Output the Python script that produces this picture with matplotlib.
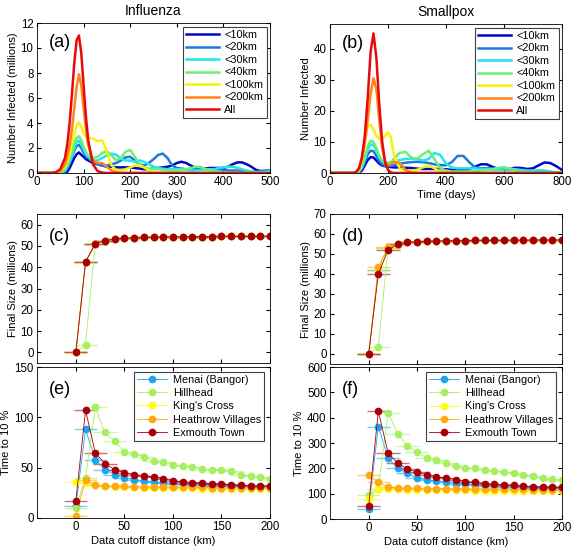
import numpy as np
import matplotlib
matplotlib.use('Agg')
import matplotlib.pyplot as plt
from matplotlib.colors import to_rgba

plt.rcParams['font.family'] = ['Liberation Sans', 'DejaVu Sans']
plt.rcParams['xtick.direction'] = 'in'
plt.rcParams['ytick.direction'] = 'in'
plt.rcParams['xtick.top'] = True
plt.rcParams['ytick.right'] = True
plt.rcParams['xtick.major.size'] = 3
plt.rcParams['ytick.major.size'] = 3
plt.rcParams['xtick.labelsize'] = 8.3
plt.rcParams['ytick.labelsize'] = 8.3
plt.rcParams['xtick.major.pad'] = 2.5
plt.rcParams['ytick.major.pad'] = 2.5
plt.rcParams['axes.linewidth'] = 0.6

# ---------------- epidemic curves ----------------
curve_labels = ['<10km', '<20km', '<30km', '<40km', '<100km', '<200km', 'All']
curve_colors = ['#0008c8', '#1c7ad8', '#20e6f2', '#6cee78', '#f6f20a', '#ff8418', '#e80a0a']

# influenza, time grid (days)
t_flu = [0, 30, 40, 50, 60, 65, 70, 75, 80, 85, 90, 95, 100, 105, 110] + list(range(120, 501, 10))
flu = {
    '<10km': [0, 0, 0, 0, 0, 0.1, 0.4, 0.8, 1.2, 1.5, 1.65, 1.45, 1.3, 1.1, 1.0,
              0.8, 0.7, 0.6, 0.5, 0.5, 0.45, 0.45, 0.45, 0.45, 0.4,
              0.35, 0.3, 0.3, 0.35, 0.4, 0.45, 0.5, 0.6, 0.8, 0.9,
              0.8, 0.6, 0.4, 0.35, 0.35, 0.4, 0.4, 0.4, 0.4, 0.5,
              0.7, 0.85, 0.85, 0.7, 0.5, 0.25, 0.15, 0.15, 0.2],
    '<20km': [0, 0, 0, 0, 0.1, 0.35, 0.8, 1.3, 1.8, 2.15, 2.25, 2.0, 1.6, 1.35, 1.2,
              0.9, 0.7, 0.6, 0.6, 0.7, 0.8, 1.0, 1.25, 1.3, 1.0,
              0.7, 0.6, 0.8, 1.1, 1.45, 1.55, 1.2, 0.6, 0.4, 0.35,
              0.3, 0.3, 0.3, 0.3, 0.3, 0.3, 0.3, 0.3, 0.25, 0.2,
              0.2, 0.2, 0.15, 0.1, 0.1, 0.1, 0.15, 0.2, 0.2],
    '<30km': [0, 0, 0, 0, 0.2, 0.5, 0.9, 1.4, 2.0, 2.45, 2.6, 2.3, 1.9, 1.5, 1.3,
              1.0, 1.0, 1.2, 1.4, 1.55, 1.45, 1.15, 1.0, 1.0, 0.9,
              1.0, 0.9, 0.7, 0.5, 0.4, 0.35, 0.3, 0.3, 0.3, 0.3,
              0.25, 0.2, 0.2, 0.25, 0.3, 0.3, 0.3, 0.4, 0.45, 0.5,
              0.5, 0.4, 0.3, 0.2, 0.1, 0.05, 0.05, 0.1, 0.15],
    '<40km': [0, 0, 0, 0, 0.3, 0.6, 1.1, 1.7, 2.4, 2.8, 2.95, 2.6, 2.1, 1.7, 1.4,
              1.2, 1.3, 1.6, 1.75, 1.4, 1.0, 1.2, 1.7, 1.85, 1.3,
              0.7, 0.45, 0.35, 0.3, 0.3, 0.25, 0.2, 0.2, 0.2, 0.25,
              0.3, 0.4, 0.5, 0.5, 0.35, 0.2, 0.1, 0.05, 0, 0,
              0, 0, 0, 0, 0, 0, 0, 0, 0],
    '<100km': [0, 0, 0, 0.1, 0.5, 0.9, 1.5, 2.3, 3.2, 3.8, 4.05, 3.7, 3.2, 2.9, 2.8,
               2.75, 2.55, 2.6, 1.7, 0.6, 0.25, 0.2, 0.3, 0.45, 0.6,
               0.6, 0.45, 0.2, 0.05, 0, 0, 0, 0, 0, 0,
               0, 0, 0, 0, 0, 0, 0, 0, 0, 0,
               0, 0, 0, 0, 0, 0, 0, 0, 0],
    '<200km': [0, 0, 0, 0.15, 0.7, 1.3, 2.2, 3.5, 5.2, 6.9, 7.9, 7.0, 5.2, 3.5, 2.2,
               1.0, 0.8, 0.8, 0.5, 0.2, 0.05, 0, 0, 0, 0,
               0, 0, 0, 0, 0, 0, 0, 0, 0, 0,
               0, 0, 0, 0, 0, 0, 0, 0, 0, 0,
               0, 0, 0, 0, 0, 0, 0, 0, 0],
    'All': [0, 0, 0.05, 0.3, 1.2, 2.3, 4.0, 6.3, 8.8, 10.6, 11.0, 9.6, 7.0, 4.5, 2.6,
            0.7, 0.15, 0.03, 0, 0, 0, 0, 0, 0, 0,
            0, 0, 0, 0, 0, 0, 0, 0, 0, 0,
            0, 0, 0, 0, 0, 0, 0, 0, 0, 0,
            0, 0, 0, 0, 0, 0, 0, 0, 0],
}

# smallpox, time grid (days)
t_pox = [0] + list(range(80, 221, 10)) + list(range(240, 801, 20))
pox = {
    '<10km': [0, 0, 0, 0.1, 0.8, 2.5, 4.2, 5.1, 5.0, 4.0, 3.0, 2.4, 2.2, 2.0, 1.9, 1.8,
              1.8, 1.7, 1.6, 1.4, 1.3, 1.3, 1.3, 1.3, 1.2, 1.0,
              1.0, 1.0, 1.3, 2.0, 2.8, 2.8, 2.0, 1.3, 1.1, 1.3,
              1.7, 1.6, 1.3, 1.5, 2.5, 3.4, 3.2, 2.2, 1.0],
    '<20km': [0, 0, 0, 0.4, 1.5, 3.6, 6.0, 7.2, 7.0, 5.5, 3.8, 2.8, 2.3, 2.2, 2.3, 2.5,
              3.0, 3.3, 3.5, 3.6, 3.5, 3.2, 2.8, 2.5, 2.5, 3.5,
              5.5, 5.5, 3.5, 1.8, 1.5, 1.5, 1.5, 1.5, 1.5, 1.2,
              1.0, 0.8, 0.6, 0.5, 0.5, 0.4, 0.3, 0.2, 0.2],
    '<30km': [0, 0, 0, 0.5, 1.8, 4.5, 7.5, 9.2, 9.0, 7.2, 5.0, 3.8, 3.3, 3.2, 3.3, 3.6,
              4.2, 4.5, 4.6, 4.5, 4.0, 4.5, 6.5, 5.8, 3.0, 1.8,
              1.5, 1.5, 1.5, 1.5, 1.3, 1.2, 1.0, 1.0, 1.1, 1.3,
              1.2, 1.0, 0.8, 0.8, 0.9, 0.8, 0.5, 0.2, 0.1],
    '<40km': [0, 0, 0, 0.6, 2.0, 5.0, 8.5, 10.4, 10.0, 8.0, 5.5, 4.0, 3.5, 3.2, 3.5, 4.5,
              6.5, 6.8, 5.0, 4.5, 6.0, 7.2, 4.5, 1.5, 0.8, 0.5,
              0.5, 0.5, 0.5, 0.6, 0.8, 1.0, 1.2, 1.7, 1.9, 1.5,
              0.8, 0.4, 0.2, 0.1, 0, 0, 0, 0, 0],
    '<100km': [0, 0, 0.2, 1.0, 4.0, 10.0, 15.0, 15.5, 14.0, 12.0, 11.0, 11.0, 12.0, 13.0, 11.5, 6.0,
               1.5, 0.8, 0.8, 1.0, 1.8, 2.4, 1.5, 0.5, 0.2, 0,
               0, 0, 0, 0, 0, 0, 0, 0, 0, 0,
               0, 0, 0, 0, 0, 0, 0, 0, 0],
    '<200km': [0, 0, 0.3, 1.5, 4.5, 9.5, 17.0, 25.5, 30.5, 27.0, 17.0, 8.0, 3.5, 2.5, 3.0, 3.5,
               3.3, 1.0, 0.2, 0, 0, 0, 0, 0, 0, 0,
               0, 0, 0, 0, 0, 0, 0, 0, 0, 0,
               0, 0, 0, 0, 0, 0, 0, 0, 0],
    'All': [0, 0, 0.3, 1.5, 5.0, 12.0, 24.0, 39.0, 45.0, 37.0, 22.0, 10.0, 3.5, 1.0, 0.2, 0,
            0, 0, 0, 0, 0, 0, 0, 0, 0, 0,
            0, 0, 0, 0, 0, 0, 0, 0, 0, 0,
            0, 0, 0, 0, 0, 0, 0, 0, 0],
}

# ---------------- cutoff distance panels ----------------
cutoff_km = list(range(0, 201, 10))
xerr_km = 12
places = ['Menai (Bangor)', 'Hillhead', "King's Cross", 'Heathrow Villages', 'Exmouth Town']
place_colors = ['#1ca4ec', '#a6f060', '#fdfd10', '#ffa812', '#a80008']

size_flu = {
    'Menai (Bangor)': [0, 42.5, 51, 52.5, 53.2, 53.6, 53.9, 54.0, 54.1, 54.2, 54.3, 54.3, 54.4, 54.4, 54.4, 54.5, 54.5, 54.5, 54.5, 54.5, 54.6],
    'Hillhead': [0, 3.5, 51, 52.5, 53.2, 53.6, 53.9, 54.0, 54.1, 54.2, 54.3, 54.3, 54.4, 54.4, 54.4, 54.5, 54.5, 54.5, 54.5, 54.5, 54.6],
    "King's Cross": [0, 42.5, 51, 52.5, 53.2, 53.6, 53.9, 54.0, 54.1, 54.2, 54.3, 54.3, 54.4, 54.4, 54.4, 54.5, 54.5, 54.5, 54.5, 54.5, 54.6],
    'Heathrow Villages': [0, 42.5, 51, 52.5, 53.2, 53.6, 53.9, 54.0, 54.1, 54.2, 54.3, 54.3, 54.4, 54.4, 54.4, 54.5, 54.5, 54.5, 54.5, 54.5, 54.6],
    'Exmouth Town': [0, 42.5, 51, 52.5, 53.2, 53.6, 53.9, 54.0, 54.1, 54.2, 54.3, 54.3, 54.4, 54.4, 54.4, 54.5, 54.5, 54.5, 54.5, 54.5, 54.6],
}
size_pox = {
    'Menai (Bangor)': [0, 42, 53, 55, 55.8, 56.2, 56.4, 56.5, 56.6, 56.7, 56.7, 56.8, 56.8, 56.8, 56.9, 56.9, 56.9, 57, 57, 57, 57],
    'Hillhead': [0, 3.5, 53, 55, 55.8, 56.2, 56.4, 56.5, 56.6, 56.7, 56.7, 56.8, 56.8, 56.8, 56.9, 56.9, 56.9, 57, 57, 57, 57],
    "King's Cross": [0, 41.5, 53, 55, 55.8, 56.2, 56.4, 56.5, 56.6, 56.7, 56.7, 56.8, 56.8, 56.8, 56.9, 56.9, 56.9, 57, 57, 57, 57],
    'Heathrow Villages': [0, 43.5, 53.5, 55, 55.8, 56.2, 56.4, 56.5, 56.6, 56.7, 56.7, 56.8, 56.8, 56.8, 56.9, 56.9, 56.9, 57, 57, 57, 57],
    'Exmouth Town': [0, 40, 52, 55, 55.8, 56.2, 56.4, 56.5, 56.6, 56.7, 56.7, 56.8, 56.8, 56.8, 56.9, 56.9, 56.9, 57, 57, 57, 57],
}
t10_flu = {
    'Menai (Bangor)': [12, 88, 58, 48, 43, 40, 38, 37, 36, 35, 34, 34, 33, 33, 32, 32, 32, 31, 31, 31, 31],
    'Hillhead': [10, 40, 110, 85, 76, 66, 64, 61, 57, 56, 53, 52, 51, 49, 48, 48, 47, 43, 42, 41, 39],
    "King's Cross": [36, 35, 33, 32, 31, 31, 31, 30, 30, 30, 30, 30, 30, 29, 29, 29, 29, 29, 29, 29, 29],
    'Heathrow Villages': [1.5, 38, 33, 32, 31.5, 31.5, 31, 31, 31, 31, 31, 30.5, 30.5, 30.5, 30, 30, 30, 30, 30, 30, 30],
    'Exmouth Town': [17, 107, 65, 54, 48, 45, 43, 42, 41, 39, 37, 36, 35, 35, 34, 34, 33, 33, 32, 32, 32],
}
t10_pox = {
    'Menai (Bangor)': [40, 365, 240, 200, 180, 162, 155, 150, 145, 140, 137, 135, 132, 130, 128, 126, 125, 123, 122, 121, 120],
    'Hillhead': [95, 118, 420, 337, 288, 265, 240, 232, 220, 210, 203, 200, 195, 190, 185, 180, 175, 168, 163, 158, 152],
    "King's Cross": [80, 120, 120, 118, 116, 115, 115, 114, 114, 113, 113, 112, 112, 112, 111, 111, 111, 110, 110, 110, 110],
    'Heathrow Villages': [175, 145, 125, 123, 122, 121, 120, 120, 120, 119, 119, 118, 118, 118, 117, 117, 117, 116, 116, 116, 115],
    'Exmouth Town': [52, 425, 262, 220, 198, 185, 175, 167, 162, 155, 148, 145, 138, 138, 135, 133, 130, 128, 127, 126, 125],
}

W, H = 572, 551
fig = plt.figure(figsize=(W / 100, H / 100), dpi=100)


def add_ax(left, right, top, bottom):
    return fig.add_axes([left / W, 1 - bottom / H, (right - left) / W, (bottom - top) / H])


def style_legend(leg):
    leg.get_frame().set_edgecolor('#404040')
    leg.get_frame().set_linewidth(0.8)


def curves_panel(ax, t, data, xmax, ymax, xticks, yticks, ylabel, letter, title):
    for lab, col in zip(curve_labels, curve_colors):
        ax.plot(t, data[lab], color=col, lw=1.8, label=lab, solid_joinstyle='round')
    ax.set_xlim(0, xmax)
    ax.set_ylim(0, ymax)
    ax.set_xticks(xticks)
    ax.set_yticks(yticks)
    ax.set_xlabel('Time (days)', fontsize=8, labelpad=1)
    ax.set_ylabel(ylabel, fontsize=8, labelpad=2)
    ax.set_title(title, fontsize=10, pad=6)
    ax.text(0.05, 0.87, letter, transform=ax.transAxes, fontsize=13, va='center')
    leg = ax.legend(loc='upper right', bbox_to_anchor=(0.985, 0.975), fontsize=7.8,
                    handlelength=3.0, handletextpad=0.5, labelspacing=0.23,
                    borderpad=0.3, borderaxespad=0, fancybox=False, framealpha=1)
    style_legend(leg)


def cutoff_panel(ax, data, ylim, yticks, ylabel, letter, show_x, legend):
    for name, col in zip(places, place_colors):
        ax.errorbar(cutoff_km, data[name], xerr=xerr_km, color=col, marker='o', ms=4.5,
                    mec=col, lw=0.6, ecolor=to_rgba(col, 0.55), elinewidth=1.0,
                    capsize=0, label=name)
    ax.set_xlim(-40, 200)
    ax.set_ylim(*ylim)
    ax.set_xticks([0, 50, 100, 150, 200])
    ax.set_yticks(yticks)
    ax.set_ylabel(ylabel, fontsize=8, labelpad=2)
    if show_x:
        ax.set_xlabel('Data cutoff distance (km)', fontsize=8, labelpad=2)
    else:
        ax.tick_params(labelbottom=False)
    ax.text(0.05, 0.85, letter, transform=ax.transAxes, fontsize=13, va='center')
    if legend:
        leg = ax.legend(loc='upper right', bbox_to_anchor=(0.975, 0.97), fontsize=7.8,
                        handlelength=2.8, handletextpad=0.5, labelspacing=0.3,
                        borderpad=0.3, borderaxespad=0, fancybox=False, framealpha=1)
        style_legend(leg)


ax_a = add_ax(37, 270, 23, 173)
curves_panel(ax_a, t_flu, flu, 500, 12, [0, 100, 200, 300, 400, 500], range(0, 13, 2),
             'Number Infected (millions)', '(a)', 'Influenza')
ax_b = add_ax(330, 562, 24, 173)
curves_panel(ax_b, t_pox, pox, 800, 48, [0, 200, 400, 600, 800], [0, 10, 20, 30, 40],
             'Number Infected', '(b)', 'Smallpox')

ax_c = add_ax(37, 270, 214, 363)
cutoff_panel(ax_c, size_flu, (-5, 65), range(0, 61, 10), 'Final Size (millions)', '(c)', False, False)
ax_d = add_ax(330, 562, 214, 364)
cutoff_panel(ax_d, size_pox, (-5, 70), range(0, 71, 10), 'Final Size (millions)', '(d)', False, False)

ax_e = add_ax(37, 270, 367, 518)
cutoff_panel(ax_e, t10_flu, (0, 150), [0, 50, 100, 150], 'Time to 10 %', '(e)', True, True)
ax_f = add_ax(330, 562, 367, 519)
cutoff_panel(ax_f, t10_pox, (0, 600), range(0, 601, 100), 'Time to 10 %', '(f)', True, True)

fig.savefig('out.png', dpi=100)
